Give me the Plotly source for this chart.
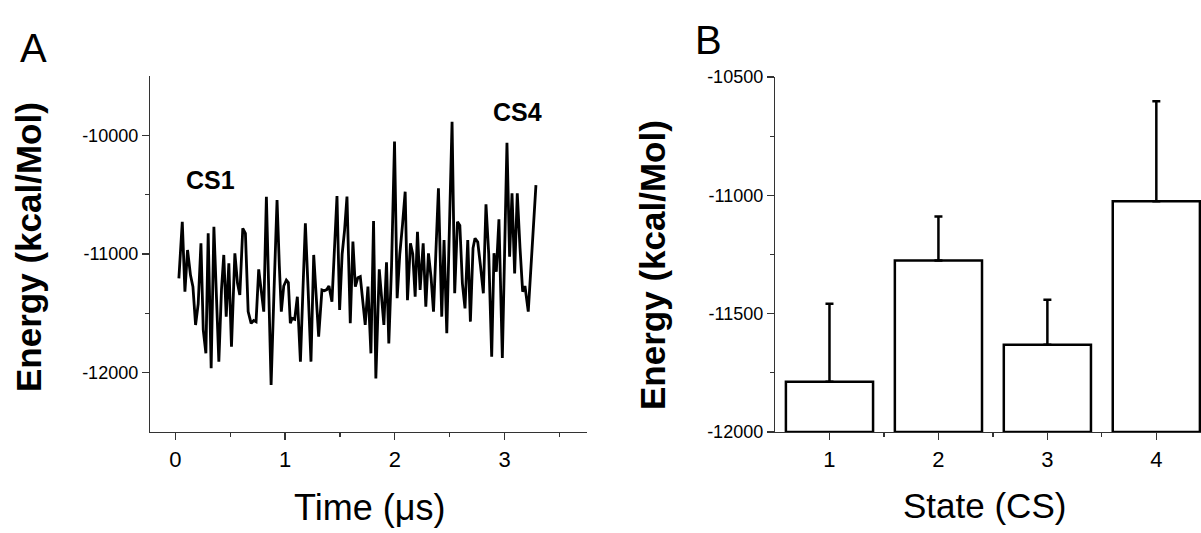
import plotly.graph_objects as go

W, H = 1201, 533

# ---------- Panel A data: energy trace over time ----------
time_us = [0.033, 0.064, 0.088, 0.112, 0.139, 0.161, 0.185, 0.209, 0.234, 0.255,
           0.279, 0.300, 0.327, 0.352, 0.376, 0.397, 0.421, 0.442, 0.464, 0.488,
           0.512, 0.543, 0.567, 0.588, 0.615, 0.639, 0.664, 0.691, 0.715, 0.736,
           0.760, 0.783, 0.806, 0.830, 0.852, 0.873, 0.900, 0.927, 0.948, 0.966,
           0.988, 1.012, 1.030, 1.048, 1.064, 1.088, 1.112, 1.140, 1.163, 1.185,
           1.210, 1.236, 1.261, 1.285, 1.306, 1.336, 1.358, 1.380, 1.400, 1.427,
           1.450, 1.473, 1.497, 1.520, 1.542, 1.564, 1.594, 1.618, 1.640, 1.663,
           1.685, 1.708, 1.730, 1.755, 1.782, 1.806, 1.827, 1.858, 1.880, 1.900,
           1.924, 1.945, 1.970, 1.997, 2.021, 2.045, 2.070, 2.094, 2.115, 2.142,
           2.163, 2.185, 2.206, 2.230, 2.258, 2.282, 2.306, 2.330, 2.352, 2.375,
           2.397, 2.427, 2.448, 2.473, 2.497, 2.521, 2.545, 2.570, 2.592, 2.615,
           2.639, 2.664, 2.688, 2.712, 2.730, 2.755, 2.780, 2.806, 2.830, 2.855,
           2.882, 2.903, 2.924, 2.948, 2.979, 3.000, 3.021, 3.045, 3.067, 3.091,
           3.115, 3.140, 3.164, 3.185, 3.215, 3.285]
energy_trace = [-11205, -10728, -11317, -10966, -11180, -11275, -11598, -11420, -10910, -11640,
                -11837, -10826, -11963, -10770, -11380, -11907, -11300, -11008, -11528, -11079,
                -11781, -10994, -11247, -11346, -10784, -10826, -11486, -11584, -11560, -11570,
                -11129, -11300, -11486, -10517, -11300, -12104, -11300, -10545, -11100, -11486,
                -11270, -11220, -11240, -11584, -11542, -11550, -11360, -11907, -11300, -10742,
                -11300, -11907, -11008, -11350, -11697, -11303, -11310, -11300, -11270, -11402,
                -10950, -10511, -11472, -11000, -10800, -10516, -11584, -10896, -11275, -11200,
                -11191, -11400, -11598, -11275, -11837, -10722, -12048, -11129, -11400, -11598,
                -11070, -11753, -11100, -10053, -11373, -11000, -10750, -10475, -11390, -10910,
                -11000, -11360, -10812, -11303, -10910, -11444, -10994, -11200, -11486, -11000,
                -10447, -11528, -10882, -11668, -10800, -9885, -11331, -10728, -10760, -11247,
                -11458, -10882, -11570, -10950, -10868, -10900, -11100, -11331, -10581, -11000,
                -11865, -10994, -11150, -10708, -11877, -11000, -10062, -11023, -10489, -11163,
                -10489, -10950, -11317, -11270, -11486, -10419]
time_ticks = [0, 1, 2, 3]
energy_ticks_a = [-10000, -11000, -12000]

# ---------- Panel B data: mean energy per state ----------
states = [1, 2, 3, 4]
state_mean = [-11788, -11275, -11631, -11025]
state_err = [330, 186, 190, 423]
bar_floor = -12000
energy_ticks_b = [-10500, -11000, -11500, -12000]

FONT = "Arial, Liberation Sans, sans-serif"

def px_x(p):
    return p / W

def px_y(p):
    return 1 - p / H

fig = go.Figure()

fig.add_trace(go.Scatter(
    x=time_us, y=energy_trace, mode="lines",
    line=dict(color="black", width=2.8),
    xaxis="x", yaxis="y", showlegend=False, hoverinfo="skip"))

fig.add_trace(go.Bar(
    x=states, y=[m - bar_floor for m in state_mean], base=[bar_floor] * len(states),
    width=0.8, marker=dict(color="white", line=dict(color="black", width=2.5)),
    xaxis="x2", yaxis="y2", showlegend=False, hoverinfo="skip"))

fig.add_trace(go.Scatter(
    x=states, y=state_mean, mode="markers",
    marker=dict(size=1, color="rgba(0,0,0,0)"),
    error_y=dict(type="data", symmetric=False, array=state_err,
                 arrayminus=[0] * len(states), color="black", thickness=2.5, width=4),
    xaxis="x2", yaxis="y2", showlegend=False, hoverinfo="skip"))

axis_common = dict(showgrid=False, zeroline=False, showline=True, automargin=False,
                   linecolor="#333333", linewidth=1.2, ticks="outside",
                   tickcolor="#333333", tickwidth=1.2, ticklen=7)

xtf = dict(family=FONT, color="black", size=22)
ytf = dict(family=FONT, color="black", size=18)

fig.update_layout(
    template="none",
    width=W, height=H,
    margin=dict(l=0, r=0, t=0, b=0, pad=0, autoexpand=False),
    paper_bgcolor="white", plot_bgcolor="white",
    xaxis=dict(**axis_common, domain=[px_x(150), px_x(587)], range=[-0.23, 3.75],
               tickvals=time_ticks, ticktext=[str(v) for v in time_ticks], anchor="y",
               tickfont=xtf,
               minor=dict(tickvals=[0.5, 1.5, 2.5, 3.5], ticklen=4, tickcolor="#333333",
                          ticks="outside")),
    yaxis=dict(**axis_common, domain=[px_y(432), px_y(76)], range=[-12500, -9500],
               tickvals=energy_ticks_a, ticktext=[str(v) for v in energy_ticks_a],
               anchor="x", tickfont=ytf,
               minor=dict(tickvals=[-10500, -11500], ticklen=4, tickcolor="#333333",
                          ticks="outside")),
    xaxis2=dict(**axis_common, domain=[px_x(775), 1], range=[0.5, 4.41],
                tickvals=states, ticktext=[str(v) for v in states], anchor="y2",
                tickfont=xtf,
                minor=dict(tickvals=[1.5, 2.5, 3.5], ticklen=4, tickcolor="#333333",
                           ticks="outside")),
    yaxis2=dict(**axis_common, domain=[px_y(432), px_y(77)], range=[-12000, -10500],
                tickvals=energy_ticks_b, ticktext=[str(v) for v in energy_ticks_b],
                anchor="x2", tickfont=ytf,
                minor=dict(tickvals=[-10750, -11250, -11750], ticklen=4,
                           tickcolor="#333333", ticks="outside")),
)

annotations = [
    dict(text="A", x=px_x(33), y=px_y(48), font=dict(size=40, family=FONT)),
    dict(text="B", x=px_x(708), y=px_y(40), font=dict(size=40, family=FONT)),
    dict(text="<b>Energy (kcal/Mol)</b>", x=px_x(29), y=px_y(247), textangle=-90,
         font=dict(size=35, family=FONT)),
    dict(text="<b>Energy (kcal/Mol)</b>", x=px_x(652), y=px_y(265), textangle=-90,
         font=dict(size=35, family=FONT)),
    dict(text="Time (\u03bcs)", x=px_x(369), y=px_y(507), font=dict(size=36, family=FONT)),
    dict(text="State (CS)", x=px_x(985), y=px_y(505), font=dict(size=35, family=FONT)),
    dict(text="<b>CS1</b>", x=px_x(210), y=px_y(180), font=dict(size=25, family=FONT)),
    dict(text="<b>CS4</b>", x=px_x(517), y=px_y(112), font=dict(size=25, family=FONT)),
]
for a in annotations:
    a.update(xref="paper", yref="paper", showarrow=False, xanchor="center", yanchor="middle")
    a["font"]["color"] = "black"
fig.update_layout(annotations=annotations)

fig.write_html("out.html",
               config={"displayModeBar": False, "staticPlot": True},
               post_script="document.body.style.margin='0px';"
                           "document.body.style.overflow='hidden';")
